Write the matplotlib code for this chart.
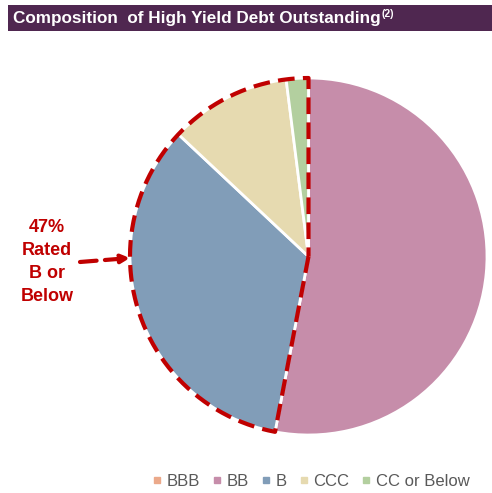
import numpy as np
import matplotlib
matplotlib.use("Agg")
import matplotlib.pyplot as plt
from matplotlib.lines import Line2D
from matplotlib.patches import Rectangle, FancyArrowPatch

plt.rcParams['font.family'] = ['Liberation Sans', 'DejaVu Sans']

categories = ["BBB", "BB", "B", "CCC", "CC or Below"]
values = [0.0, 53.0, 34.0, 11.0, 2.0]
colors = ["#EBA98A", "#C68DAA", "#819DB8", "#E6DAB0", "#B3CF9F"]
title = "Composition  of High Yield Debt Outstanding"
callout = "47%\nRated\nB or\nBelow"

fig = plt.figure(figsize=(4.92, 4.93), dpi=100)

# title bar
fig.patches.append(Rectangle((8/492, 1 - 31/493), 484/492, 26/493,
                             transform=fig.transFigure, facecolor="#4F2750",
                             edgecolor="none", zorder=0))
t = fig.text(13/492, 1 - 18/493, title, color="white", fontsize=12.3,
             fontweight="bold", va="center", ha="left")
fig.canvas.draw()
bb = t.get_window_extent()
fig.text(bb.x1/492 + 0.5/492, 1 - 14/493, "(2)", color="white", fontsize=7.5,
         fontweight="bold", va="center", ha="left")

ax = fig.add_axes([130/492, 1 - 435/493, 357/492, 357/493])
wedges, _ = ax.pie(values, colors=colors, startangle=90, counterclock=False,
                   radius=1.0, wedgeprops=dict(edgecolor="white", linewidth=2))
ax.set_xlim(-1.0, 1.0)
ax.set_ylim(-1.0, 1.0)
ax.set_aspect("equal")
ax.axis("off")
for w in wedges:
    w.set_clip_on(False)

# dashed outline around B, CCC, CC or Below
total = sum(values)
start = 90 - 360 * (values[0] + values[1]) / total
end = 90 - 360
th = np.radians(np.linspace(start, end, 300))
r = 1.0
xs = np.concatenate([[0], r*np.cos(th), [0]])
ys = np.concatenate([[0], r*np.sin(th), [0]])
ax.plot(xs, ys, color="#C00000", linestyle=(0, (4, 2)), linewidth=3, zorder=5,
        clip_on=False)

# callout
fig.text(47/492, 1 - 262/493, callout, color="#C00000", fontsize=13,
         fontweight="bold", ha="center", va="center", linespacing=1.45)
fig.add_artist(FancyArrowPatch(
    (80/492, 1 - 262/493), (130/492, 1 - 258/493), transform=fig.transFigure,
    arrowstyle="-|>", mutation_scale=12, color="#C00000", linewidth=3,
    linestyle=(0, (4, 2)), shrinkA=0, shrinkB=0))

handles = [Line2D([], [], marker="s", linestyle="none", markersize=5,
                  markerfacecolor=c, markeredgecolor=c) for c in colors]
leg = fig.legend(handles, categories, loc="center right", ncol=5,
                 bbox_to_anchor=(470/492, 1 - 481/493), frameon=False,
                 fontsize=12, handlelength=0.5, handletextpad=0.35,
                 columnspacing=0.75, labelcolor="#595959",
                 borderpad=0, borderaxespad=0)

fig.savefig("out.png", dpi=100)
